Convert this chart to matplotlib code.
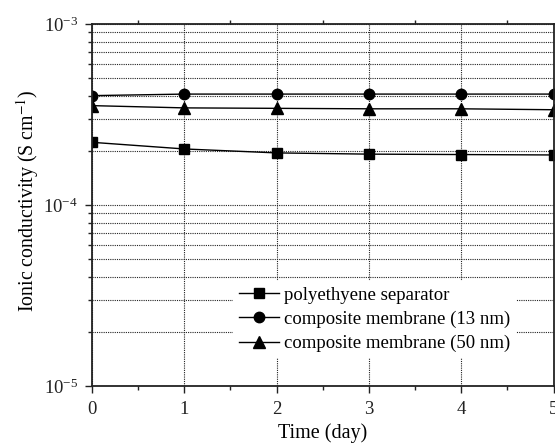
import numpy as np
import matplotlib
matplotlib.use("Agg")
import matplotlib.pyplot as plt
from matplotlib.ticker import LogLocator, MultipleLocator, NullFormatter

plt.rcParams['font.family'] = ['Liberation Serif', 'DejaVu Serif']
plt.rcParams['mathtext.fontset'] = 'stix'

# data
days = [0, 1, 2, 3, 4, 5]
pe_separator = [2.22e-4, 2.04e-4, 1.94e-4, 1.91e-4, 1.90e-4, 1.89e-4]
comp_13nm = [4.02e-4, 4.1e-4, 4.1e-4, 4.1e-4, 4.1e-4, 4.1e-4]
comp_50nm = [3.54e-4, 3.44e-4, 3.42e-4, 3.4e-4, 3.4e-4, 3.36e-4]
labels = ['polyethyene separator', 'composite membrane (13 nm)', 'composite membrane (50 nm)']

fig = plt.figure(figsize=(5.55, 4.45), dpi=100)
ax = fig.add_axes([92 / 555, 1 - 386 / 445, 461.5 / 555, 362 / 445])

ax.plot(days, pe_separator, '-s', color='black', lw=1, ms=6.5, label=labels[0])
ax.plot(days, comp_13nm, '-o', color='black', lw=1, ms=7.5, label=labels[1])
ax.plot(days, comp_50nm, '-^', color='black', lw=1, ms=8, label=labels[2])

ax.set_yscale('log')
ax.set_ylim(1e-5, 1e-3)
ax.set_xlim(0, 5)
ax.xaxis.set_major_locator(MultipleLocator(1))
ax.xaxis.set_minor_locator(MultipleLocator(0.5))
ax.yaxis.set_major_locator(LogLocator(base=10))
ax.yaxis.set_minor_locator(LogLocator(base=10, subs=np.arange(2, 10)))
ax.yaxis.set_minor_formatter(NullFormatter())

ax.grid(True, which='both', axis='y', color='#222222', ls=(0, (1, 1)), lw=0.8)
ax.grid(True, which='major', axis='x', color='#222222', ls=(0, (1, 1)), lw=0.8)
ax.set_axisbelow(True)

ax.tick_params(which='major', direction='out', length=5, labelsize=13.5, width=1, colors='#222222')
ax.tick_params(axis='x', which='major', pad=6)
ax.tick_params(axis='y', which='major', pad=5)
ax.tick_params(which='minor', direction='out', length=3, width=1, colors='#222222')
ax.tick_params(axis='x', which='minor', top=True)

for s in ax.spines.values():
    s.set_linewidth(1.3)
    s.set_color('#222222')

ax.set_xlabel('Time (day)', fontsize=14.5)
ax.set_ylabel('Ionic conductivity (S cm$^{-1}$)', fontsize=14.3)
ax.xaxis.set_label_coords(0.5, -0.102)
ax.yaxis.set_label_coords(-0.110, 0.512)

leg = ax.legend(loc='upper left', bbox_to_anchor=(0.3055, 0.29), borderaxespad=0,
                fontsize=13.5, frameon=True, fancybox=False, edgecolor='none',
                framealpha=1, handlelength=2.15, handletextpad=0.27,
                labelspacing=0.37, borderpad=0.3)

fig.savefig('out.png', dpi=100)
